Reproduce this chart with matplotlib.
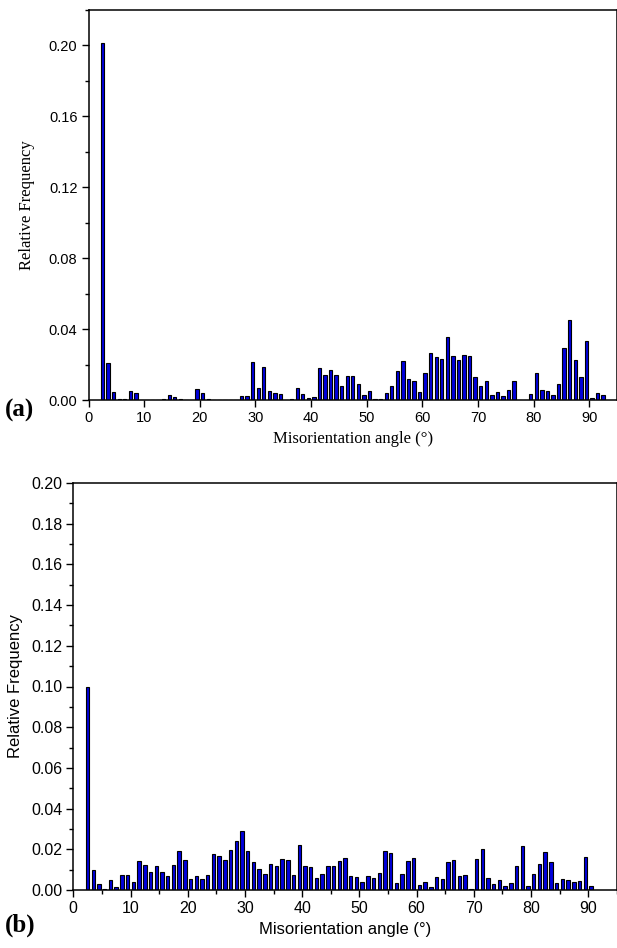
import numpy as np
import matplotlib
matplotlib.use("Agg")
import matplotlib.pyplot as plt
from matplotlib.ticker import MultipleLocator, FixedLocator

# ---- data ----
angles_a = [2.5, 3.5, 4.5, 5.5, 6.5, 7.5, 8.5, 9.5, 10.5, 11.5, 12.5, 13.5, 14.5, 15.5, 16.5,
            17.5, 18.5, 19.5, 20.5, 21.5, 22.5, 23.5, 24.5, 25.5, 26.5, 27.5, 28.5, 29.5, 30.5,
            31.5, 32.5, 33.5, 34.5, 35.5, 36.5, 37.5, 38.5, 39.5, 40.5, 41.5, 42.5, 43.5, 44.5,
            45.5, 46.5, 47.5, 48.5, 49.5, 50.5, 51.5, 52.5, 53.5, 54.5, 55.5, 56.5, 57.5, 58.5,
            59.5, 60.5, 61.5, 62.5, 63.5, 64.5, 65.5, 66.5, 67.5, 68.5, 69.5, 70.5, 71.5, 72.5,
            73.5, 74.5, 75.5, 76.5, 77.5, 78.5, 79.5, 80.5, 81.5, 82.5, 83.5, 84.5, 85.5, 86.5,
            87.5, 88.5, 89.5, 90.5, 91.5, 92.5]
freq_a = [0.2012, 0.0210, 0.0043, 0.0006, 0.0006, 0.0053, 0.0039, 0.0, 0.0, 0.0, 0.0, 0.0006,
          0.0026, 0.0017, 0.0003, 0.0, 0.0, 0.0064, 0.0041, 0.0008, 0.0, 0.0, 0.0, 0.0, 0.0,
          0.0021, 0.0021, 0.0214, 0.0066, 0.0188, 0.0050, 0.0041, 0.0036, 0.0, 0.0005, 0.0069,
          0.0034, 0.0013, 0.0019, 0.0182, 0.0139, 0.0171, 0.0139, 0.0081, 0.0137, 0.0133,
          0.0088, 0.0028, 0.0049, 0.0003, 0.0003, 0.0038, 0.0077, 0.0163, 0.0222, 0.0120,
          0.0107, 0.0045, 0.0150, 0.0263, 0.0242, 0.0231, 0.0353, 0.0250, 0.0223, 0.0255,
          0.0250, 0.0131, 0.0081, 0.0107, 0.0026, 0.0045, 0.0023, 0.0058, 0.0105, 0.0002,
          0.0, 0.0036, 0.0150, 0.0058, 0.0051, 0.0028, 0.0090, 0.0295, 0.0451, 0.0223,
          0.0128, 0.0334, 0.0011, 0.0038, 0.0030]

angles_b = [2.5, 3.5, 4.5, 5.5, 6.5, 7.5, 8.5, 9.5, 10.5, 11.5, 12.5, 13.5, 14.5, 15.5, 16.5,
            17.5, 18.5, 19.5, 20.5, 21.5, 22.5, 23.5, 24.5, 25.5, 26.5, 27.5, 28.5, 29.5, 30.5,
            31.5, 32.5, 33.5, 34.5, 35.5, 36.5, 37.5, 38.5, 39.5, 40.5, 41.5, 42.5, 43.5, 44.5,
            45.5, 46.5, 47.5, 48.5, 49.5, 50.5, 51.5, 52.5, 53.5, 54.5, 55.5, 56.5, 57.5, 58.5,
            59.5, 60.5, 61.5, 62.5, 63.5, 64.5, 65.5, 66.5, 67.5, 68.5, 69.5, 70.5, 71.5, 72.5,
            73.5, 74.5, 75.5, 76.5, 77.5, 78.5, 79.5, 80.5, 81.5, 82.5, 83.5, 84.5, 85.5, 86.5,
            87.5, 88.5, 89.5, 90.5, 91.5]
freq_b = [0.1000, 0.0097, 0.0028, 0.0005, 0.0051, 0.0013, 0.0075, 0.0074, 0.0039, 0.0144,
          0.0121, 0.0087, 0.0118, 0.0087, 0.0069, 0.0123, 0.0192, 0.0149, 0.0054, 0.0070,
          0.0054, 0.0075, 0.0179, 0.0167, 0.0146, 0.0195, 0.0239, 0.0290, 0.0193, 0.0139,
          0.0105, 0.0079, 0.0128, 0.0120, 0.0152, 0.0146, 0.0074, 0.0220, 0.0116, 0.0113,
          0.0061, 0.0077, 0.0120, 0.0120, 0.0143, 0.0157, 0.0069, 0.0066, 0.0039, 0.0069,
          0.0061, 0.0084, 0.0192, 0.0182, 0.0036, 0.0077, 0.0144, 0.0156, 0.0025, 0.0039,
          0.0015, 0.0064, 0.0054, 0.0139, 0.0149, 0.0070, 0.0075, 0.0005, 0.0152, 0.0202,
          0.0061, 0.0030, 0.0048, 0.0021, 0.0033, 0.0120, 0.0215, 0.0021, 0.0077, 0.0126,
          0.0187, 0.0139, 0.0034, 0.0054, 0.0048, 0.0039, 0.0043, 0.0164, 0.0021, 0.0002]

xlabel_text = "Misorientation angle (°)"
ylabel_text = "Relative Frequency"

W, H = 617, 948
fig = plt.figure(figsize=(W / 100, H / 100), dpi=100)

serif = ["Liberation Serif", "DejaVu Serif"]
sans = ["Liberation Sans", "DejaVu Sans"]
bar_color = "#0000DD"

# ---- panel (a) ----
ax1 = fig.add_axes([88.6 / W, 1 - 400 / H, (W - 88.6) / W, 390 / H])
ax1.bar(angles_a, freq_a, width=0.6, color=bar_color, edgecolor="black", linewidth=0.8)
ax1.set_xlim(0, 95)
ax1.set_ylim(0, 0.22)
ax1.xaxis.set_major_locator(FixedLocator(np.arange(0, 91, 10)))
ax1.yaxis.set_major_locator(FixedLocator(np.arange(0, 0.201, 0.04)))
ax1.yaxis.set_minor_locator(MultipleLocator(0.02))
ax1.set_yticklabels([f"{v:.2f}" for v in np.arange(0, 0.201, 0.04)])
ax1.tick_params(axis="both", which="major", direction="out", length=5, width=1,
                labelsize=10.5, pad=3)
ax1.tick_params(axis="y", which="minor", direction="out", length=3, width=1)
for lab in ax1.get_xticklabels() + ax1.get_yticklabels():
    lab.set_family(sans)
for sp in ax1.spines.values():
    sp.set_linewidth(1.1)
ax1.set_xlabel(xlabel_text, family=serif, fontsize=12, labelpad=4)
ax1.set_ylabel(ylabel_text, family=serif, fontsize=12, labelpad=10)

# ---- panel (b) ----
ax2 = fig.add_axes([73.3 / W, 1 - 890 / H, (616.7 - 73.3) / W, 407 / H])
ax2.bar(angles_b, freq_b, width=0.6, color=bar_color, edgecolor="black", linewidth=0.8)
ax2.set_xlim(0, 95)
ax2.set_ylim(0, 0.20)
ax2.xaxis.set_major_locator(FixedLocator(np.arange(0, 91, 10)))
ax2.xaxis.set_minor_locator(FixedLocator(np.arange(5, 96, 10)))
ax2.yaxis.set_major_locator(FixedLocator(np.arange(0, 0.2001, 0.02)))
ax2.yaxis.set_minor_locator(MultipleLocator(0.01))
ax2.set_yticklabels([f"{v:.2f}" for v in np.arange(0, 0.2001, 0.02)])
ax2.tick_params(axis="both", which="major", direction="out", length=5, width=1,
                labelsize=11.5, pad=3)
ax2.tick_params(axis="both", which="minor", direction="out", length=3, width=1)
for lab in ax2.get_xticklabels() + ax2.get_yticklabels():
    lab.set_family(sans)
for sp in ax2.spines.values():
    sp.set_linewidth(1.1)
ax2.set_xlabel(xlabel_text, family=sans, fontsize=12, labelpad=4)
ax2.set_ylabel(ylabel_text, family=sans, fontsize=12, labelpad=6)

# ---- panel letters ----
fig.text(5 / W, 1 - 410 / H, "(a)", family=serif, fontsize=18, fontweight="bold",
         va="center", ha="left")
fig.text(5 / W, 1 - 925 / H, "(b)", family=serif, fontsize=18, fontweight="bold",
         va="center", ha="left")

fig.savefig("out.png", dpi=100)
